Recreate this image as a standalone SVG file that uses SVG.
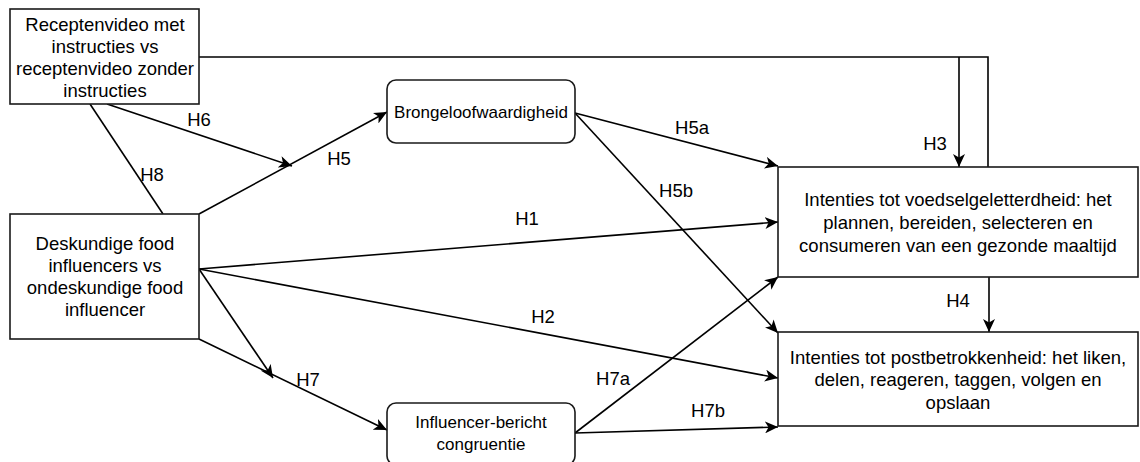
<svg xmlns="http://www.w3.org/2000/svg" width="1140" height="462" viewBox="0 0 1140 462">
<style>
.box{fill:#fff;stroke:#1a1a1a;stroke-width:1.6}
.t{font-family:"Liberation Sans",Arial,sans-serif;font-size:18.5px;fill:#000;text-anchor:middle}
.ts{font-family:"Liberation Sans",Arial,sans-serif;font-size:17px;fill:#000;text-anchor:middle}
.e{fill:none;stroke:#000;stroke-width:1.6}
.ea{fill:none;stroke:#000;stroke-width:1.6;marker-end:url(#arr)}
</style>
<defs>
<marker id="arr" markerUnits="userSpaceOnUse" markerWidth="14" markerHeight="12" refX="13" refY="6" orient="auto" viewBox="0 0 14 12">
<path d="M0,0 L13,6 L0,12 L3.5,6 Z" fill="#000"/>
</marker>
</defs>
<rect width="1140" height="462" fill="#fff"/>
<g id="connectors">
<polyline class="e" points="199,57 988,57 988,167"/>
<line class="ea" x1="959" y1="57" x2="959" y2="167"/>
<line class="ea" x1="989" y1="277" x2="989" y2="332"/>
<line class="ea" x1="107" y1="104" x2="292" y2="166"/>
<line class="ea" x1="199" y1="214" x2="387" y2="112"/>
<line class="e" x1="90" y1="104" x2="163" y2="214"/>
<line class="ea" x1="575" y1="113" x2="778" y2="166"/>
<line class="ea" x1="575" y1="113" x2="778" y2="333"/>
<line class="ea" x1="199" y1="269" x2="778" y2="222"/>
<line class="ea" x1="199" y1="269" x2="778" y2="378"/>
<line class="ea" x1="199" y1="339" x2="387" y2="430"/>
<line class="ea" x1="199" y1="269" x2="273" y2="378"/>
<line class="ea" x1="575" y1="433" x2="778" y2="277"/>
<line class="ea" x1="575" y1="433" x2="778" y2="427"/>
<text class="t" x="199" y="125.5">H6</text>
<text class="t" x="339" y="164.5">H5</text>
<text class="t" x="152" y="180.5">H8</text>
<text class="t" x="692" y="133.5">H5a</text>
<text class="t" x="676" y="196.5">H5b</text>
<text class="t" x="527" y="224.5">H1</text>
<text class="t" x="543" y="322.5">H2</text>
<text class="t" x="308" y="385.5">H7</text>
<text class="t" x="613" y="384.5">H7a</text>
<text class="t" x="708" y="416.5">H7b</text>
<text class="t" x="935" y="149.5">H3</text>
<text class="t" x="958" y="306.5">H4</text>
</g>
<g id="node-recepten">
<rect class="box" x="10" y="9" width="189" height="95"/>
<text class="t" x="105" y="30.5">Receptenvideo met</text>
<text class="t" x="105" y="52.8">instructies vs</text>
<text class="t" x="105" y="75.1">receptenvideo zonder</text>
<text class="t" x="105" y="97.4">instructies</text>
</g>
<g id="node-deskundig">
<rect class="box" x="10" y="214" width="189" height="125"/>
<text class="t" x="105" y="249.5">Deskundige food</text>
<text class="t" x="105" y="271.8">influencers vs</text>
<text class="t" x="105" y="294.1">ondeskundige food</text>
<text class="t" x="105" y="316.4">influencer</text>
</g>
<g id="node-brongeloof">
<rect class="box" x="387" y="80" width="188" height="63" rx="9"/>
<text class="ts" x="481" y="118">Brongeloofwaardigheid</text>
</g>
<g id="node-congruentie">
<rect class="box" x="387" y="403" width="188" height="62" rx="9"/>
<text class="ts" x="481" y="428">Influencer-bericht</text>
<text class="ts" x="481" y="450">congruentie</text>
</g>
<g id="node-voedsel">
<rect class="box" x="778" y="167" width="360" height="110"/>
<text class="t" x="958" y="205.5">Intenties tot voedselgeletterdheid: het</text>
<text class="t" x="958" y="228.5">plannen, bereiden, selecteren en</text>
<text class="t" x="958" y="251.5">consumeren van een gezonde maaltijd</text>
</g>
<g id="node-post">
<rect class="box" x="778" y="332" width="360" height="94"/>
<text class="t" x="958" y="363.5">Intenties tot postbetrokkenheid: het liken,</text>
<text class="t" x="958" y="386">delen, reageren, taggen, volgen en</text>
<text class="t" x="958" y="408.5">opslaan</text>
</g>
</svg>
